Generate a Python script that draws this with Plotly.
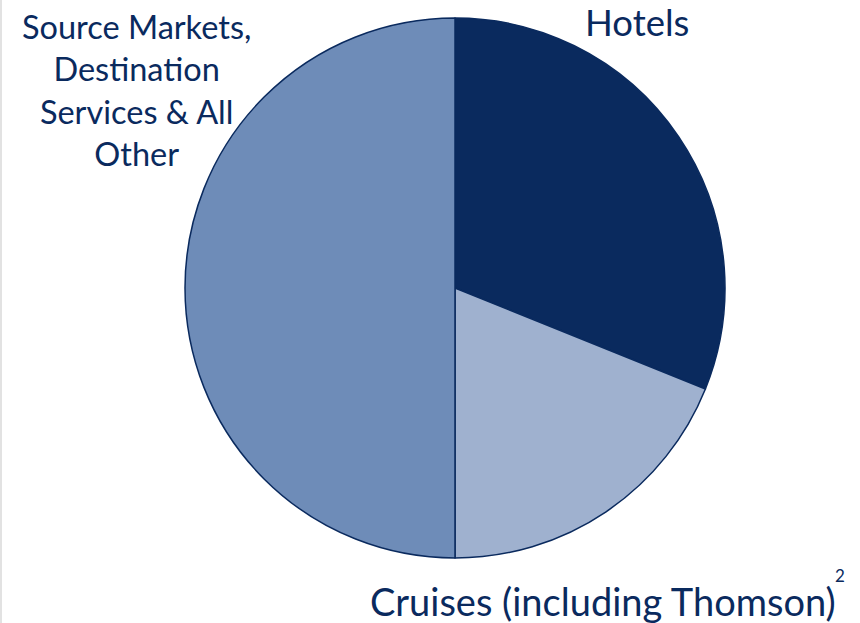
import plotly.graph_objects as go

# Segment shares (%)
segments = ["Hotels", "Cruises (including Thomson)", "Source Markets, Destination Services & All Other"]
shares = [31.1, 18.9, 50.0]
colors = ["#0a2a5e", "#9fb1cf", "#6e8cb8"]

W, H = 860, 623
TEXT = "#0a2a5e"
FONT = "Lato"

def px(x, y):
    return x / W, 1 - y / H

fig = go.Figure(go.Pie(
    labels=segments,
    values=shares,
    sort=False,
    direction="clockwise",
    rotation=0,
    marker=dict(colors=colors, line=dict(color="#0a2a5e", width=1.5)),
    textinfo="none",
    hoverinfo="label+percent",
    showlegend=False,
    domain=dict(x=[185 / W, 725 / W], y=[1 - 558 / H, 1 - 18 / H]),
))

labels = [
    ("Hotels", 637, 22, 36.5),
    ("Source Markets,<br>Destination<br>Services &amp; All<br>Other", 136, 90, 32.5),
    ("Cruises (including Thomson)", 603, 601, 38),
    ("2", 840, 575, 17),
]
for text, x, y, size in labels:
    ax, ay = px(x, y)
    fig.add_annotation(
        x=ax, y=ay, xref="paper", yref="paper",
        text=text, showarrow=False,
        xanchor="center", yanchor="middle",
        font=dict(family=FONT, size=size, color=TEXT),
    )

# thin frame line along the left edge
fig.add_shape(type="line", xref="paper", yref="paper",
              x0=1 / W, x1=1 / W, y0=0, y1=1,
              line=dict(color="#e2e2e2", width=2))

fig.update_layout(
    width=W, height=H,
    margin=dict(l=0, r=0, t=0, b=0),
    paper_bgcolor="white",
    plot_bgcolor="white",
)

fig.write_html("out.html")
